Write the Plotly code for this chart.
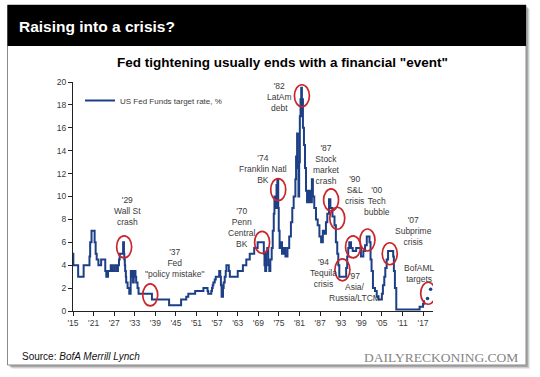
import plotly.graph_objects as go

# ---------------- data ----------------
years = [1915.0, 1915.1, 1916.5, 1918.1, 1919.8, 1920.0, 1920.4, 1921.3, 1921.6, 1921.9,
         1922.4, 1923.2, 1924.4, 1924.7, 1925.2, 1926.0, 1926.4, 1927.0, 1927.6, 1928.1,
         1928.4, 1928.6, 1929.6, 1929.85, 1929.95, 1930.1, 1930.2, 1930.4, 1930.5, 1930.9,
         1931.4, 1931.8, 1931.85, 1932.2, 1932.5, 1932.7, 1933.2, 1933.4, 1933.8, 1934.1,
         1938.0, 1943.0, 1946.5, 1948.0, 1948.6, 1950.6, 1953.0, 1954.2, 1954.4, 1955.3,
         1955.5, 1955.7, 1955.9, 1956.3, 1956.6, 1957.6, 1957.9, 1958.1, 1958.3, 1958.7,
         1958.9, 1959.2, 1959.5, 1959.7, 1960.4, 1960.7, 1963.0, 1964.5, 1965.5, 1966.5,
         1967.8, 1968.8, 1970.6, 1970.8, 1971.0, 1971.3, 1971.6, 1971.9, 1972.2, 1972.5,
         1972.9, 1973.2, 1973.5, 1973.7, 1974.0, 1974.3, 1974.55, 1974.8, 1974.95, 1975.2,
         1975.5, 1975.9, 1976.4, 1976.9, 1977.5, 1978.0, 1978.5, 1978.9, 1979.3, 1979.8,
         1980.0, 1980.3, 1980.5, 1980.7, 1980.9, 1981.1, 1981.3, 1981.5, 1981.7, 1981.85,
         1982.0, 1982.3, 1982.6, 1982.9, 1983.2, 1983.6, 1984.1, 1984.6, 1984.9, 1985.3,
         1985.8, 1986.3, 1986.8, 1987.3, 1987.8, 1988.2, 1988.7, 1989.1, 1989.6, 1990.0,
         1990.6, 1991.2, 1991.6, 1992.0, 1992.3, 1992.6, 1994.6, 1994.9, 1995.2, 1995.5,
         1996.0, 1996.5, 1997.5, 1998.9, 1999.6, 2000.1, 2000.6, 2001.4, 2001.7, 2002.0,
         2002.4, 2003.0, 2003.5, 2004.0, 2005.0, 2005.3, 2005.7, 2006.0, 2006.4, 2006.8,
         2008.3, 2008.5, 2008.8, 2009.2, 2016.0, 2017.0, 2017.3, 2017.5]
rates = [5.0, 4.0, 3.0, 4.0, 4.75, 6.0, 7.0, 6.0, 5.0, 4.5,
         4.0, 4.5, 3.5, 3.0, 3.5, 4.0, 3.5, 4.0, 3.5, 4.0,
         4.5, 5.0, 6.0, 5.0, 4.5, 4.0, 3.5, 3.0, 2.5, 2.0,
         1.5, 2.5, 3.5, 3.0, 2.5, 3.5, 3.0, 2.5, 2.0, 1.5,
         1.0, 0.5, 1.0, 1.25, 1.5, 1.75, 2.0, 1.75, 1.5, 1.75,
         2.0, 2.25, 2.5, 2.75, 3.0, 3.5, 3.0, 2.25, 1.25, 2.0,
         2.5, 3.0, 3.5, 4.0, 3.5, 3.0, 3.5, 4.0, 4.5, 5.0,
         5.5, 6.0, 5.0, 4.0, 3.5, 5.0, 5.5, 4.0, 3.5, 4.5,
         5.5, 7.0, 8.5, 10.0, 9.0, 11.0, 11.5, 9.0, 7.0, 5.5,
         6.0, 5.0, 5.5, 4.75, 5.5, 6.5, 7.75, 9.0, 10.0, 11.5,
         13.5, 15.5, 12.5, 10.0, 13.0, 17.0, 18.5, 19.5, 17.0, 18.5,
         16.0, 14.5, 12.5, 10.5, 9.5, 10.5, 9.5, 11.5, 10.0, 9.0,
         8.0, 7.5, 6.5, 6.0, 7.0, 6.75, 7.75, 8.5, 9.75, 9.0,
         8.25, 7.5, 6.0, 5.0, 4.0, 3.0, 3.75, 4.75, 5.5, 6.0,
         5.5, 5.25, 5.5, 4.75, 5.25, 5.75, 6.5, 6.0, 4.5, 3.5,
         2.0, 1.75, 1.25, 1.0, 1.5, 2.25, 3.0, 3.75, 4.5, 5.25,
         4.75, 3.5, 2.0, 0.125, 0.375, 0.625, 0.875, 0.875]

target_years = [2018.3, 2019.2]
target_rates = [1.1, 1.9]

tick_years = [1915, 1921, 1927, 1933, 1939, 1945, 1951, 1957, 1963, 1969,
              1975, 1981, 1987, 1993, 1999, 2005, 2011, 2017]
tick_labels = ["'15", "'21", "'27", "'33", "'39", "'45", "'51", "'57", "'63", "'69",
               "'75", "'81", "'87", "'93", "'99", "'05", "'11", "'17"]

event_labels = ["'29<br>Wall St<br>crash", "'37<br>Fed<br>\"policy mistake\"",
                "'70<br>Penn<br>Central<br>BK", "'74<br>Franklin Natl<br>BK",
                "'82<br>LatAm<br>debt", "'87<br>Stock<br>market<br>crash",
                "'90<br>S&L<br>crisis", "'00<br>Tech<br>bubble",
                "'07<br>Subprime<br>crisis", "'94<br>Tequila<br>crisis",
                "'97<br>Asia/<br>Russia/LTCM", "BofAML<br>targets"]
event_label_x = [1931.0, 1944.6, 1964.3, 1970.4, 1975.2, 1988.9, 1996.9, 2003.6,
                 2014.2, 1988.1, 1997.1, 2016.0]
event_label_y = [8.7, 4.2, 7.3, 12.4, 18.7, 12.8, 10.6, 9.6, 7.0, 3.3, 2.1, 3.25]

circle_x = [1929.9, 1937.5, 1970.1, 1974.8, 1981.7, 1990.2, 1992.0, 1993.5,
            1996.6, 2000.8, 2007.3, 2018.5]
circle_y = [5.6, 1.4, 6.0, 10.6, 18.8, 9.7, 8.1, 3.6, 5.6, 6.2, 5.0, 1.55]

# ---------------- layout geometry ----------------
W, H = 540, 377
L, R, T, B = 73, 107, 82, 66
PW, PH = W - L - R, H - T - B
X0, X1 = 1915, 2019.9
Y0, Y1 = 0, 20


def px(x):
    return (x - L) / PW


def py(y):
    return (H - B - y) / PH


xs_per_px = (X1 - X0) / PW
ys_per_px = (Y1 - Y0) / PH

LINE = "#1d3f86"
RED = "#c8262c"
TXT = "#3a3a3a"
SANS = "Liberation Sans, Arial, sans-serif"

fig = go.Figure()
fig.add_trace(go.Scatter(x=years, y=rates, mode="lines", line=dict(color=LINE, width=2.0, shape="hv"),
                         name="US Fed Funds target rate, %", showlegend=True))
fig.add_trace(go.Scatter(x=target_years, y=target_rates, mode="markers",
                         marker=dict(color=LINE, size=3.5), showlegend=False))

shapes = []
# drop shadow + frame
for off, op in [(4, 0.08), (3, 0.12), (2, 0.18)]:
    shapes.append(dict(type="rect", xref="paper", yref="paper", layer="below",
                       x0=px(7.5 + off), x1=px(526 + off), y0=py(365 + off), y1=py(5 + off),
                       line=dict(width=0), fillcolor="rgba(0,0,0,%s)" % op))
shapes.append(dict(type="rect", xref="paper", yref="paper", layer="below",
                   x0=px(7.5), x1=px(526), y0=py(365), y1=py(5),
                   line=dict(color="#8a8a8a", width=1), fillcolor="white"))
shapes.append(dict(type="rect", xref="paper", yref="paper", layer="below",
                   x0=px(7.5), x1=px(526), y0=py(46), y1=py(5),
                   line=dict(width=0), fillcolor="black"))
# red circles
rx, ry = 7.5 * xs_per_px, 11 * ys_per_px
for cx, cy in zip(circle_x, circle_y):
    shapes.append(dict(type="circle", xref="x", yref="y", layer="above",
                       x0=cx - rx, x1=cx + rx, y0=cy - ry, y1=cy + ry,
                       line=dict(color=RED, width=1.7)))

annotations = [
    dict(text="<b>Raising into a crisis?</b>", xref="paper", yref="paper", x=px(17), y=py(26),
         xanchor="left", yanchor="middle", showarrow=False,
         font=dict(family=SANS, size=15.5, color="white")),
    dict(text="<b>Fed tightening usually ends with a financial \"event\"</b>", xref="paper", yref="paper",
         x=px(282), y=py(63), xanchor="center", yanchor="middle", showarrow=False,
         font=dict(family=SANS, size=13.5, color="black")),
    dict(text="Source: <i>BofA Merrill Lynch</i>", xref="paper", yref="paper", x=px(20), y=py(356.5),
         xanchor="left", yanchor="middle", showarrow=False,
         font=dict(family=SANS, size=10, color="#111")),
    dict(text="DAILYRECKONING.COM", xref="paper", yref="paper", x=px(520), y=py(357),
         xanchor="right", yanchor="middle", showarrow=False,
         font=dict(family="Liberation Serif, Times New Roman, serif", size=13.5, color="#858585")),
]
for t, x, y in zip(event_labels, event_label_x, event_label_y):
    annotations.append(dict(text=t, x=x, y=y, xref="x", yref="y", showarrow=False,
                            xanchor="center", yanchor="middle",
                            font=dict(family=SANS, size=8.5, color=TXT)))

fig.update_layout(
    width=W, height=H, margin=dict(l=L, r=R, t=T, b=B, pad=0),
    paper_bgcolor="white", plot_bgcolor="rgba(0,0,0,0)",
    shapes=shapes, annotations=annotations,
    showlegend=True,
    legend=dict(x=px(80), y=py(86), xanchor="left", yanchor="top", bgcolor="rgba(0,0,0,0)",
                font=dict(family=SANS, size=8, color=TXT), itemwidth=30,
                tracegroupgap=0),
    xaxis=dict(range=[X0, X1], tickvals=tick_years, ticktext=tick_labels, showgrid=False,
               zeroline=False, showline=True, linecolor="#222", linewidth=1,
               ticks="outside", ticklen=4, tickcolor="#222",
               tickfont=dict(family=SANS, size=8.5, color=TXT)),
    yaxis=dict(range=[Y0, Y1], dtick=2, showgrid=False, zeroline=False, showline=True,
               linecolor="#222", linewidth=1, ticks="outside", ticklen=4, tickcolor="#222",
               tickfont=dict(family=SANS, size=8.5, color=TXT)),
)

fig.write_html("out.html", config={"displayModeBar": False},
               post_script="document.body.style.margin='0';")
